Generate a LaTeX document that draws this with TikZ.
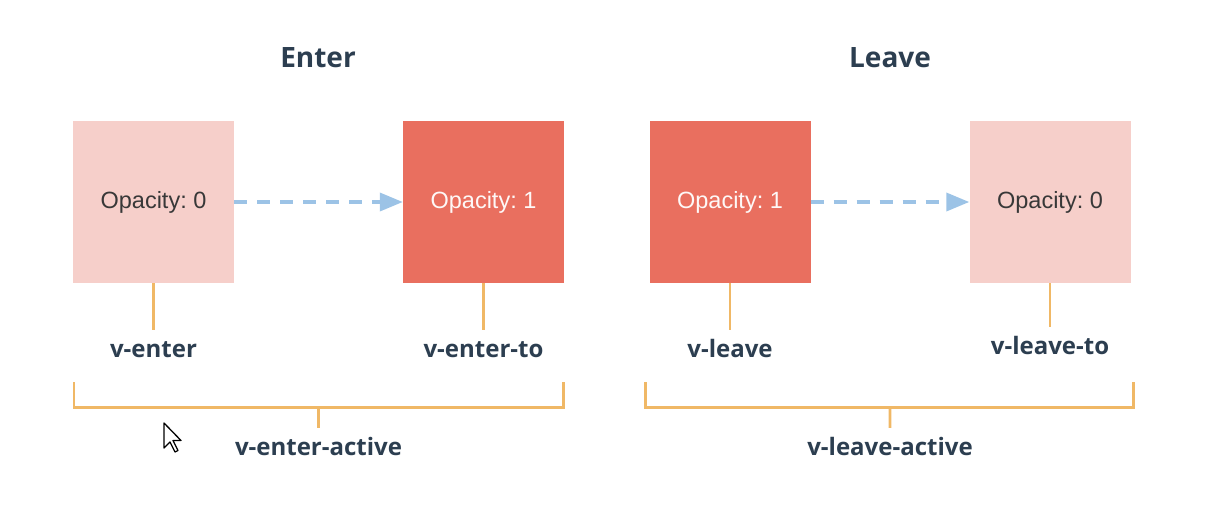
\documentclass[tikz,border=0pt]{standalone}
\usepackage{fontspec}
\setmainfont{Open Sans}
\newfontfamily\statefont{Liberation Sans}
\frenchspacing
\usepackage{tikz}
\usetikzlibrary{arrows.meta,positioning,calc}
\definecolor{vuedark}{HTML}{2C3E50}
\definecolor{boxpale}{HTML}{F6CFCA}
\definecolor{boxred}{HTML}{E96F5F}
\definecolor{hookorange}{HTML}{F0B866}
\definecolor{flowblue}{HTML}{9CC3E6}

\begin{document}
\begin{tikzpicture}[x=1pt,y=-1pt,
    box/.style={minimum width=161,minimum height=162,inner sep=0,
      font=\statefont\fontsize{23.5}{27}\selectfont},
    pale/.style={box,fill=boxpale,text=black!78},
    hot/.style={box,fill=boxred,text=white!95!boxred},
    flow/.style={flowblue,line width=3.6,dash pattern=on 13pt off 10pt,
      -{Triangle[length=23,width=18]}},
    hook/.style={hookorange,line width=2.6},
    tag/.style={text=vuedark,font=\bfseries\fontsize{24}{28}\selectfont,
      text height=19,text depth=5,inner sep=8},
    title/.style={text=vuedark,font=\bfseries\fontsize{28}{32}\selectfont}]
    \useasboundingbox (0,0) rectangle (1223,515);
    % titles
    \node[title] (enter) at (318,58) {Enter};
    \node[title] (leave) at (890,58) {Leave};
    % the four states
    \node[pale] (e0) at (153.5,202) {Opacity: 0};
    \node[hot]  (e1) at (483.5,202) {Opacity: 1};
    \node[hot]  (l1) at (730,202)   {Opacity: 1};
    \node[pale] (l0) at (1050,202)  {Opacity: 0};
    \draw[flow] (e0.east) -- (e1.west);
    \draw[flow] (l1.east) -- (l0.west);
    % class names
    \node[tag] (ve)  at (153.5,350) {v-enter};
    \node[tag] (vet) at (483.5,350) {v-enter-to};
    \node[tag] (vl)  at (730,350)   {v-leave};
    \node[tag] (vlt) at (1050,347)  {v-leave-to};
    \draw[hook] (e0.south) -- (ve.north);
    \draw[hook] (e1.south) -- (vet.north);
    \draw[hook] (l1.south) -- (vl.north);
    \draw[hook] (l0.south) -- (vlt.north);
    % active brackets
    \coordinate (ea) at ($(e0.south west)!0.5!(e1.south east)+(0,124)$);
    \coordinate (la) at ($(l1.south west)!0.5!(l0.south east)+(0,124)$);
    \draw[hook] ($(e0.south west)+(1,99)$) |- ($(e1.south east)+(-1,124)$) -- ++(0,-25);
    \draw[hook] ($(l1.south west)+(-4,99)$) |- ($(l0.south east)+(3,124)$) -- ++(0,-25);
    \node[tag] (vea) at (318.5,448) {v-enter-active};
    \node[tag] (vla) at (890,448)   {v-leave-active};
    \draw[hook] (ea) -- (vea.north);
    \draw[hook] (la) -- (vla.north);
    % mouse pointer
    \draw[fill=white,line width=1.3,line join=round]
      (164,423) -- ++(0,25) -- ++(6,-6) -- ++(5,10) -- ++(3,-1.5)
      -- ++(-5,-10) -- ++(8,0) -- cycle;
\end{tikzpicture}
\end{document}
